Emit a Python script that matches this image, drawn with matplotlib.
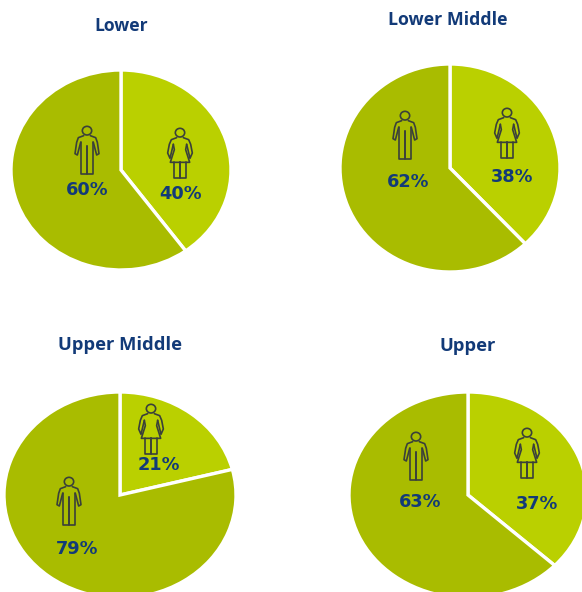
import matplotlib
matplotlib.use('Agg')
import matplotlib.pyplot as plt
from matplotlib.patches import Ellipse

W, H = 582, 592

# data
titles = ['Lower', 'Lower Middle', 'Upper Middle', 'Upper']
women = [40, 38, 21, 37]
men = [60, 62, 79, 63]

# layout in pixels (centre x, centre y, radius x, radius y)
pies = [(121, 170, 110, 100), (450, 168, 110, 104), (120, 495, 116, 103), (468, 495, 119, 103)]
title_pos = [(121, 26), (448, 20), (120, 345), (468, 346)]
title_size = [12.6, 12.8, 13.2, 13.2]
women_label = [(181, 194), (512, 177), (159, 465), (537, 504)]
men_label = [(87, 190), (408, 182), (77, 549), (420, 502)]
women_icon = [(180, 129), (507, 109), (151, 405), (527, 429)]
men_icon = [(87, 127), (405, 112), (69, 478), (416, 433)]

light = '#BAD000'
dark = '#A9BC00'
navy = '#123A78'
icon_col = '#3A403A'

fig = plt.figure(figsize=(W / 100, H / 100), dpi=100, facecolor='white')

for i, (cx, cy, rx, ry) in enumerate(pies):
    ax = fig.add_axes([(cx - rx) / W, 1 - (cy + ry) / H, 2 * rx / W, 2 * ry / H])
    ax.pie([women[i], men[i]], colors=[light, dark], startangle=90, counterclock=False,
           radius=1, wedgeprops={'edgecolor': 'white', 'linewidth': 2.4})
    ax.set_aspect('auto')
    ax.set_xlim(-1, 1)
    ax.set_ylim(-1, 1)
    ax.axis('off')

# overlay in pixel coordinates for text and icons
top = fig.add_axes([0, 0, 1, 1], zorder=5)
top.set_xlim(0, W)
top.set_ylim(H, 0)
top.axis('off')


def line(x0, y0, pts):
    top.plot([x0 + p[0] / 3 for p in pts], [y0 + p[1] / 3 for p in pts],
             color=icon_col, lw=1.2, solid_capstyle='round', solid_joinstyle='round')


def head(x0, y0):
    top.add_patch(Ellipse((x0, y0 + 11 / 3), 28 / 3, 26 / 3, fill=False, ec=icon_col, lw=1.2))


def draw_man(x0, y0):
    head(x0, y0)
    for s in (-1, 1):
        line(x0, y0, [(s * 10, 26), (s * 26, 32), (s * 31, 46), (s * 36, 80), (s * 29, 84), (s * 19, 46)])
        line(x0, y0, [(s * 18, 46), (s * 18, 140), (0, 140), (0, 58)])


def draw_woman(x0, y0):
    head(x0, y0)
    for s in (-1, 1):
        line(x0, y0, [(s * 10, 26), (s * 26, 32), (s * 32, 46), (s * 37, 72), (s * 30, 88), (s * 20, 46)])
        line(x0, y0, [(s * 20, 46), (s * 17, 62), (s * 29, 100), (0, 100)])
        line(x0, y0, [(s * 17, 100), (s * 17, 147), (0, 147), (0, 100)])


for i in range(4):
    top.text(title_pos[i][0], title_pos[i][1], titles[i], ha='center', va='center',
             fontsize=title_size[i], fontweight='bold', color=navy, family='Open Sans')
    top.text(women_label[i][0], women_label[i][1], f'{women[i]}%', ha='center', va='center',
             fontsize=12.8, fontweight='bold', color=navy, family='DejaVu Sans')
    top.text(men_label[i][0], men_label[i][1], f'{men[i]}%', ha='center', va='center',
             fontsize=12.8, fontweight='bold', color=navy, family='DejaVu Sans')
    draw_woman(*women_icon[i])
    draw_man(*men_icon[i])

fig.savefig('out.png', dpi=100)
